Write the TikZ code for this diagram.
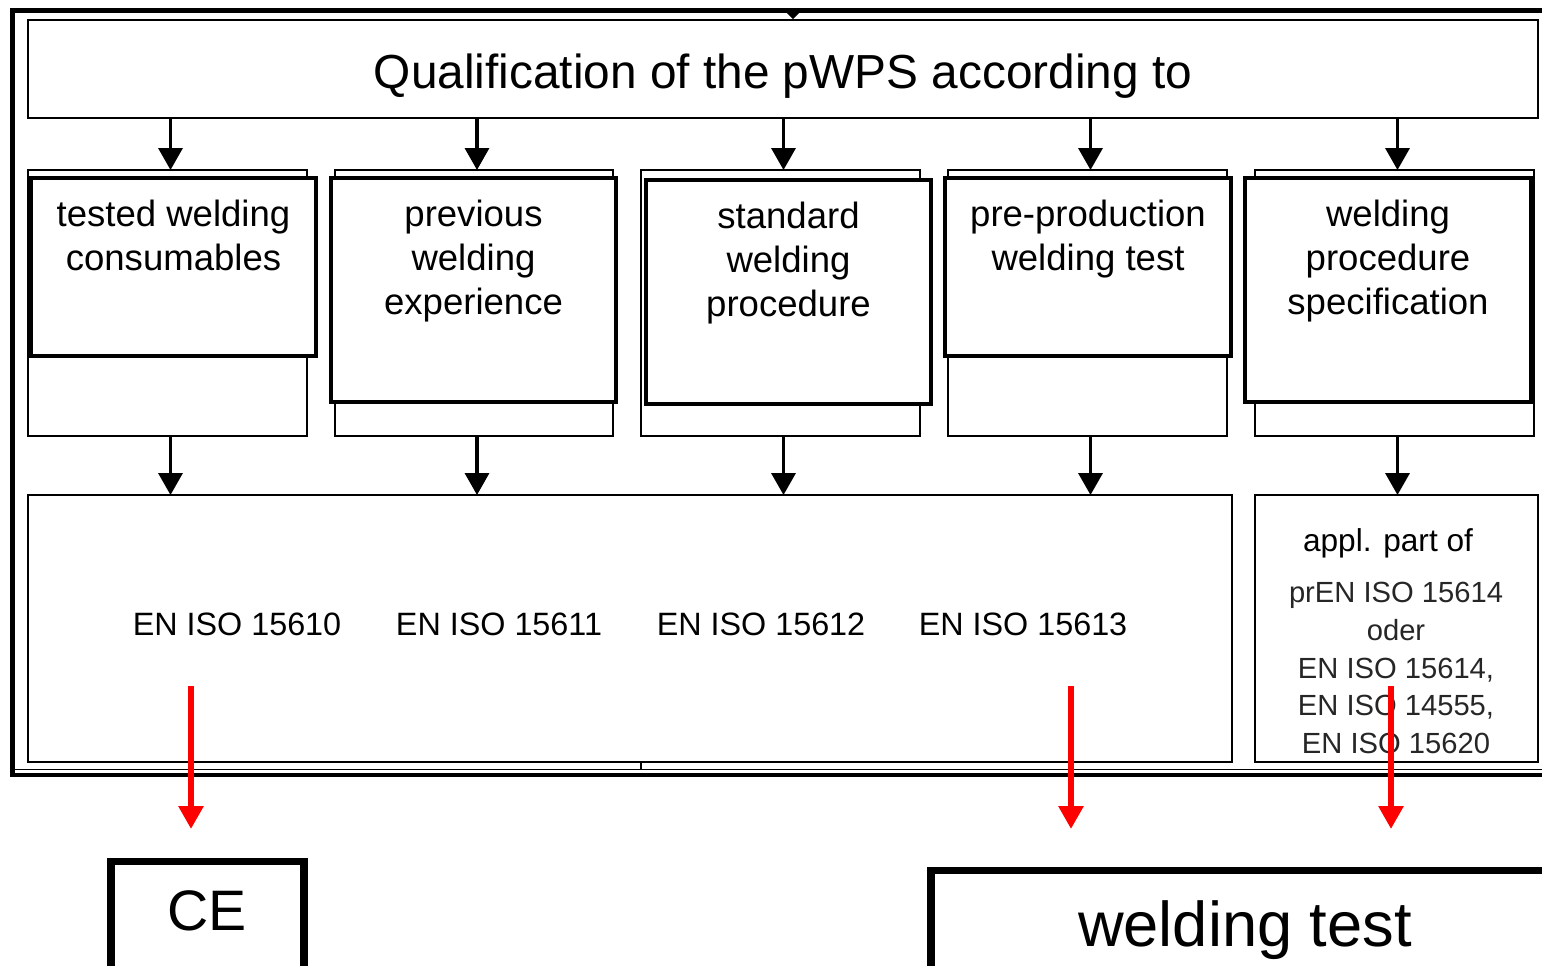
\documentclass[tikz,border=0pt]{standalone}
\usepackage{fontspec}
\setmainfont{Liberation Sans}
\usetikzlibrary{arrows.meta,positioning,fit}

\begin{document}
\begin{tikzpicture}[x=0.02cm, y=-0.02cm,
      every node/.style={inner sep=0pt, outer sep=0pt},
      backbox/.style={draw, line width=1.1pt},
      frontbox/.style={draw, fill=white, line width=2pt},
      normbox/.style={draw, line width=1.4pt},
      resultbox/.style={draw, line width=4pt},
      coltext/.style={align=center, font=\fontsize{20.8}{25}\selectfont},
      normtext/.style={font=\fontsize{18.4}{22}\selectfont},
      blackarrow/.style={line width=2pt, -{Triangle[length=0.44cm, width=0.48cm]}},
      redarrow/.style={red, line width=3.4pt, -{Triangle[length=0.46cm, width=0.48cm]}}]

      \clip (0,0) rectangle (1542,965);

      \draw[line width=2.8pt] (12.5,10.5) rectangle (1600,775);
      \draw[line width=1.1pt] (14,769.5) -- (1600,769.5);
      \draw[line width=1.1pt] (641,762) -- (641,769.5);
      \fill (786,12) -- (800,12) -- (793,19) -- cycle;

      \node[fit={(28,20) (1538,118)}, draw, line width=1.1pt] (qual) {};
      \node[font=\fontsize{27.2}{32}\selectfont] (qualtext) at (783,76) {Qualification of the pWPS according to};

      \foreach \i/\xa/\xb in {1/28/307, 2/335/613, 3/641/920, 4/948/1227, 5/1255/1534}
         \node[backbox, fit={(\xa,170) (\xb,436)}] (back\i) {};

      \node[frontbox, fit={(31,178) (316,356)}] (front1) {};
      \node[frontbox, fit={(331,178) (616,402)}] (front2) {};
      \node[frontbox, fit={(646,180) (931,404)}] (front3) {};
      \node[frontbox, fit={(945,178) (1231,356)}] (front4) {};
      \node[frontbox, fit={(1245,178) (1531,402)}] (front5) {};

      \node[coltext, below=0.44cm of front1.north] (consumables) {tested welding\\consumables};
      \node[coltext, below=0.44cm of front2.north] (experience) {previous\\welding\\experience};
      \node[coltext, below=0.44cm of front3.north] (standard) {standard\\welding\\procedure};
      \node[coltext, below=0.44cm of front4.north] (preprod) {pre-production\\welding test};
      \node[coltext, below=0.44cm of front5.north] (wps) {welding\\procedure\\specification};

      \node[normbox, fit={(28,495) (1232,762)}] (norms) {};
      \foreach \n/\x in {15610/237, 15611/499, 15612/761, 15613/1023}
         \node[normtext] (iso\n) at (\x,624) {EN ISO \n};

      \node[normbox, fit={(1255,495) (1538,762)}] (appl) {};
      \node[font=\fontsize{18}{22}\selectfont] (applhead) at (1388,543) {appl. part of};
      \node[align=center, text=black!85, font=\fontsize{16.6}{21.4}\selectfont]
         (appllist) at (1396,668) {prEN ISO 15614\\oder\\EN ISO 15614,\\EN ISO 14555,\\EN ISO 15620};

      \foreach \i in {1,...,5}
         \draw[blackarrow] ([xshift=0.06cm]qual.south -| back\i.north) -- ([xshift=0.06cm]back\i.north);
      \foreach \i in {1,...,4}
         \draw[blackarrow] ([xshift=0.06cm]back\i.south) -- ([xshift=0.06cm]back\i.south |- norms.north);
      \draw[blackarrow] ([xshift=0.06cm]back5.south) -- ([xshift=0.06cm]back5.south |- appl.north);

      \node[resultbox, fit={(111,861) (304,1000)}] (ce) {};
      \node[anchor=north, font=\fontsize{32.5}{38}\selectfont] (cetext) at (207,891) {CE};
      \node[resultbox, fit={(931,870) (1620,1010)}] (test) {};
      \node[anchor=north, font=\fontsize{36}{42}\selectfont] (testtext) at (1245,901) {welding test};

      \coordinate (ce from) at (191,686);
      \coordinate (ce to) at (191,829);
      \coordinate (test from) at (1071,686);
      \coordinate (test to) at (1071,829);
      \coordinate (spec from) at (1391,686);
      \coordinate (spec to) at (1391,829);
      \draw[redarrow] (ce from) -- (ce to);
      \draw[redarrow] (test from) -- (test to);
      \draw[redarrow] (spec from) -- (spec to);
\end{tikzpicture}
\end{document}
